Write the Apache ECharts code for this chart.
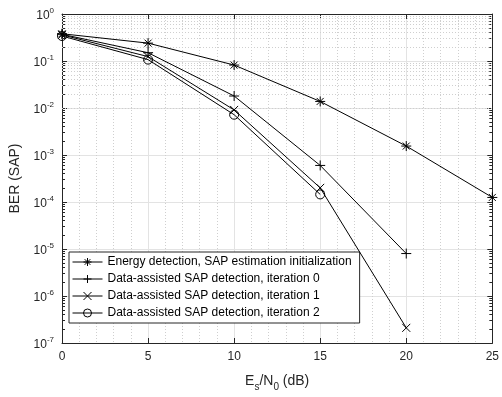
<!DOCTYPE html>
<html>
<head>
<meta charset="utf-8">
<script src="https://cdn.jsdelivr.net/npm/echarts@6/dist/echarts.min.js"></script>
<style>
  html, body { margin: 0; padding: 0; background: #fff; }
  #chart { width: 502px; height: 397px; }
</style>
</head>
<body>
<div id="chart"></div>
<script>
// Es/N0 (dB)
var snr = [0, 5, 10, 15, 20, 25];
// BER (SAP) per curve
var berEnergy = [0.38, 0.24, 0.082, 0.0138, 0.00155, 1.25e-4];
var berIter0 = [0.37, 0.15, 0.018, 6.0e-4, 8.0e-6];
var berIter1 = [0.36, 0.124, 0.0091, 2.0e-4, 2.1e-7];
var berIter2 = [0.34, 0.107, 0.0072, 1.45e-4];
var names = [
  'Energy detection, SAP estimation initialization',
  'Data-assisted SAP detection, iteration 0',
  'Data-assisted SAP detection, iteration 1',
  'Data-assisted SAP detection, iteration 2'
];
var decades = [-7, -6, -5, -4, -3, -2, -1, 0];

var FONT = '"Liberation Sans", Arial, sans-serif';
var TXT = '#262626';
var star = 'path://M0,-10L0,10M-10,0L10,0M-7,-7L7,7M-7,7L7,-7';
var plus = 'path://M0,-10L0,10M-10,0L10,0';
var cross = 'path://M-10,-10L10,10M-10,10L10,-10';

// minor log positions 2..9 x 10^n
var minors = [];
decades.forEach(function (d) {
  if (d >= 0) return;
  for (var k = 2; k <= 9; k++) minors.push(+(k * Math.pow(10, d)).toPrecision(3));
});

function pairs(arr) {
  return arr.map(function (v, i) { return [snr[i], v]; });
}

function mkSeries(name, arr, symbol, size, fill) {
  return {
    name: name,
    type: 'line',
    data: pairs(arr),
    symbol: symbol,
    symbolSize: size,
    showAllSymbol: true,
    lineStyle: { color: '#000', width: 1 },
    itemStyle: { color: fill || '#000', borderColor: '#000', borderWidth: 1 },
    emphasis: { disabled: true },
    z: 5
  };
}

var logBase = { type: 'log', logBase: 10, min: 1e-7, max: 1 };
function yAx(extra) { return Object.assign({}, logBase, extra); }

var option = {
  animation: false,
  textStyle: { fontFamily: FONT },
  grid: { left: 62, right: 6, top: 14, bottom: 45 },
  legend: {
    orient: 'vertical',
    left: 69, top: 252,
    itemWidth: 30, itemHeight: 10, itemGap: 3,
    padding: [3, 8, 3, 3],
    backgroundColor: '#fff',
    borderColor: '#262626', borderWidth: 1, borderRadius: 0,
    lineStyle: { width: 1, color: '#000' },
    itemStyle: { borderWidth: 1, borderColor: '#000' },
    textStyle: { fontFamily: FONT, fontSize: 12, color: '#000', lineHeight: 14 },
    data: names
  },
  xAxis: [{
    type: 'value', min: 0, max: 25, interval: 5,
    name: '{n|E}{sub|s}{n|/N}{sub|0}{n| (dB)}',
    nameLocation: 'middle', nameGap: 28,
    nameTextStyle: {
      rich: {
        n: { fontFamily: FONT, fontSize: 14, color: TXT },
        sub: { fontFamily: FONT, fontSize: 10, color: TXT, padding: [11, 0, 0, 0] }
      }
    },
    axisLine: { show: true, lineStyle: { color: TXT, width: 1 } },
    axisTick: { show: true, inside: true, length: 5, lineStyle: { color: TXT } },
    axisLabel: { fontFamily: FONT, fontSize: 12, color: TXT, margin: 8 },
    splitLine: { show: true, lineStyle: { color: '#e3e3e3', width: 1 } },
    minorTick: { show: false, splitNumber: 5 },
    minorSplitLine: { show: true, lineStyle: { color: '#cfcfcf', width: 1, type: [1, 2] } }
  }, {
    type: 'value', min: 0, max: 25, interval: 5, position: 'top',
    axisLine: { show: true, lineStyle: { color: TXT, width: 1 } },
    axisTick: { show: true, inside: true, length: 5, lineStyle: { color: TXT } },
    axisLabel: { show: false },
    splitLine: { show: false }
  }],
  yAxis: [
    yAx({
      position: 'left',
      name: 'BER (SAP)', nameLocation: 'middle', nameGap: 35,
      nameTextStyle: { fontFamily: FONT, fontSize: 14, color: TXT },
      axisLine: { show: true, lineStyle: { color: TXT, width: 1 } },
      axisTick: { show: true, inside: true, length: 5, lineStyle: { color: TXT } },
      axisLabel: {
        margin: 8,
        formatter: function (v) {
          return '{b|10}{s|' + Math.round(Math.log10(v)) + '}';
        },
        rich: {
          b: { fontFamily: FONT, fontSize: 12, color: TXT, verticalAlign: 'bottom' },
          s: { fontFamily: FONT, fontSize: 8, color: TXT, verticalAlign: 'bottom', padding: [0, 0, 7, 0] }
        }
      },
      splitLine: { show: true, lineStyle: { color: '#e3e3e3', width: 1 } }
    }),
    yAx({
      position: 'left',
      axisLine: { show: false },
      axisTick: { show: true, inside: true, length: 3, customValues: minors, lineStyle: { color: TXT } },
      axisLabel: { show: false },
      splitLine: { show: false }
    }),
    yAx({
      position: 'right',
      axisLine: { show: true, lineStyle: { color: TXT, width: 1 } },
      axisTick: { show: true, inside: true, length: 5, lineStyle: { color: TXT } },
      axisLabel: { show: false },
      splitLine: { show: false }
    }),
    yAx({
      position: 'right',
      axisLine: { show: false },
      axisTick: { show: true, inside: true, length: 3, customValues: minors, lineStyle: { color: TXT } },
      axisLabel: { show: false },
      splitLine: { show: false }
    })
  ],
  series: [
    {
      type: 'line', data: [], silent: true, z: 1,
      markLine: {
        silent: true, symbol: 'none', animation: false,
        label: { show: false },
        lineStyle: { color: '#cfcfcf', width: 1, type: [1, 2] },
        emphasis: { disabled: true },
        data: minors.map(function (v) { return { yAxis: v }; })
      }
    },
    mkSeries(names[0], berEnergy, star, 10),
    mkSeries(names[1], berIter0, plus, 10),
    mkSeries(names[2], berIter1, cross, 8),
    mkSeries(names[3], berIter2, 'circle', 9, 'rgba(0,0,0,0)')
  ]
};

var chart = echarts.init(document.getElementById('chart'), null, { renderer: 'canvas' });
chart.setOption(option);
</script>
</body>
</html>
